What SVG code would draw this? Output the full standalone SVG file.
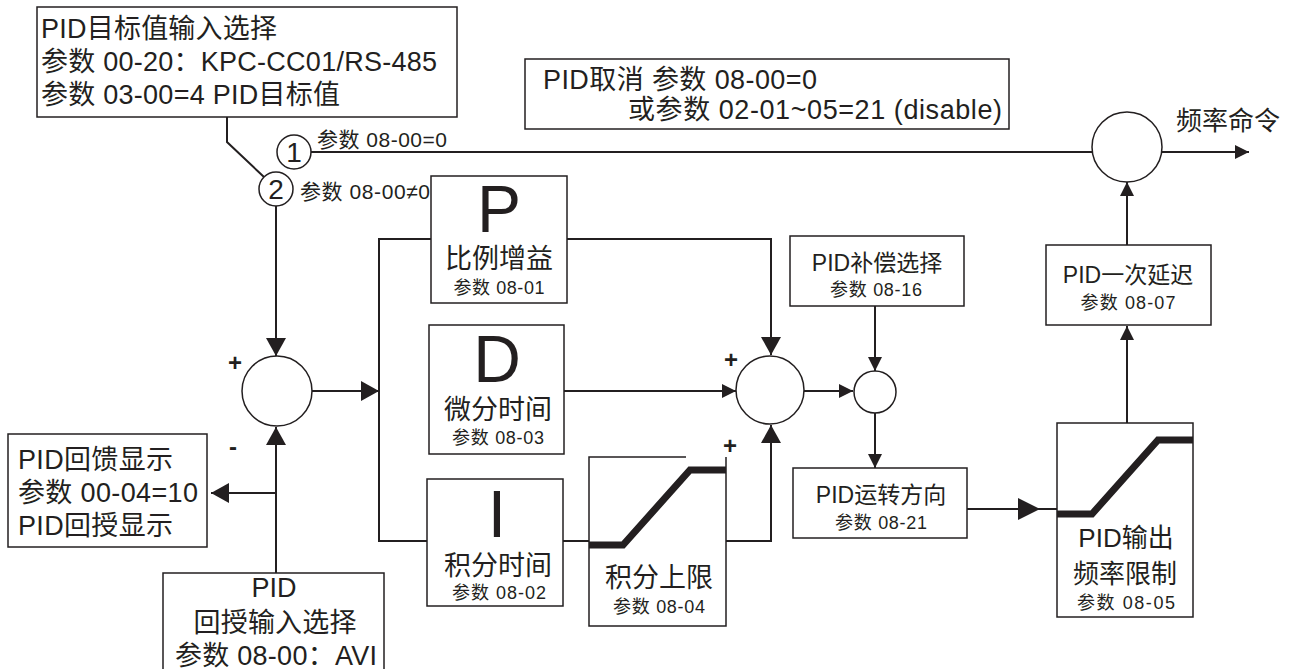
<svg xmlns="http://www.w3.org/2000/svg" width="1294" height="669" viewBox="0 0 1294 669">
<style>
.t{font-family:"Liberation Sans","Noto Sans CJK SC",sans-serif;fill:#231f20}
.c{text-anchor:middle}
.f27{font-size:27px}
.f23{font-size:23px}
.f18{font-size:18px}
.f21{font-size:21px}
.big{font-size:66px}
.pm{font-size:24px;font-weight:bold}
.box{fill:#fff;stroke:#231f20;stroke-width:1.5}
.ln{fill:none;stroke:#231f20;stroke-width:2}
.thk{fill:none;stroke:#231f20;stroke-width:7}
.ar{fill:#231f20}
</style>
<defs>
<marker id="aL" markerUnits="userSpaceOnUse" markerWidth="18" markerHeight="20" viewBox="0 0 18 20" refX="18" refY="10" orient="auto"><path class="ar" d="M0,0L18,10L0,20z"/></marker>
<marker id="aM" markerUnits="userSpaceOnUse" markerWidth="14" markerHeight="14" viewBox="0 0 14 14" refX="14" refY="7" orient="auto"><path class="ar" d="M0,0L14,7L0,14z"/></marker>
<marker id="aXL" markerUnits="userSpaceOnUse" markerWidth="22" markerHeight="22" viewBox="0 0 22 22" refX="22" refY="11" orient="auto"><path class="ar" d="M0,0L22,11L0,22z"/></marker>
</defs>
<rect width="1294" height="669" fill="#fff"/>

<g id="connectors">
<polyline class="ln" points="227,117 227,142 264,177" stroke-width="1.5"/>
<line class="ln" x1="311" y1="152" x2="1092" y2="152"/>
<line class="ln" x1="276" y1="206" x2="276" y2="356" stroke-width="2.5" marker-end="url(#aL)"/>
<line class="ln" x1="276" y1="573" x2="276" y2="427" marker-end="url(#aL)"/>
<line class="ln" x1="276" y1="493" x2="211" y2="493" marker-end="url(#aL)"/>
<line class="ln" x1="312" y1="391" x2="379" y2="391" marker-end="url(#aL)"/>
<polyline class="ln" points="431,239 379,239 379,541 427,541"/>
<polyline class="ln" points="567,239 771,239 771,355" marker-end="url(#aL)"/>
<line class="ln" x1="564" y1="391" x2="736" y2="391" marker-end="url(#aM)"/>
<line class="ln" x1="563" y1="541" x2="589" y2="541"/>
<polyline class="ln" points="726,541 771,541 771,425" marker-end="url(#aL)"/>
<line class="ln" x1="804" y1="391" x2="853" y2="391" marker-end="url(#aM)"/>
<line class="ln" x1="875" y1="306" x2="875" y2="371" marker-end="url(#aM)"/>
<line class="ln" x1="875" y1="413" x2="875" y2="468" marker-end="url(#aM)"/>
<line class="ln" x1="967" y1="509" x2="1040" y2="509" marker-end="url(#aXL)"/>
<line class="ln" x1="1040" y1="509" x2="1057" y2="509" stroke-width="1.5"/>
<line class="ln" x1="1127" y1="423" x2="1127" y2="326" marker-end="url(#aM)"/>
<line class="ln" x1="1127" y1="245" x2="1127" y2="182" marker-end="url(#aM)"/>
<line class="ln" x1="1162" y1="152" x2="1249" y2="152" marker-end="url(#aM)"/>
</g>

<g id="target-select">
<rect class="box" x="37" y="7" width="420" height="110"/>
<text class="t f27" x="41" y="38" textLength="236" lengthAdjust="spacing">PID目标值输入选择</text>
<text class="t f27" x="41" y="71" textLength="396" lengthAdjust="spacing">参数 00-20：KPC-CC01/RS-485</text>
<text class="t f27" x="41" y="104" textLength="299" lengthAdjust="spacing">参数 03-00=4 PID目标值</text>
</g>

<g id="pid-cancel">
<rect class="box" x="525" y="59" width="484" height="70"/>
<text class="t f27" x="543" y="89" textLength="274" lengthAdjust="spacing">PID取消  参数 08-00=0</text>
<text class="t f27" x="628" y="119" textLength="374" lengthAdjust="spacing">或参数 02-01~05=21 (disable)</text>
</g>

<g id="switch1">
<circle class="box" cx="294" cy="152" r="17"/>
<text class="t c" x="294" y="162" font-size="28">1</text>
<text class="t f21" x="317" y="147" textLength="130" lengthAdjust="spacing">参数 08-00=0</text>
</g>

<g id="switch2">
<circle class="box" cx="276" cy="189" r="17"/>
<text class="t c" x="276" y="199" font-size="28">2</text>
<text class="t f21" x="300" y="199" textLength="130" lengthAdjust="spacing">参数 08-00≠0</text>
</g>

<g id="sum1">
<circle class="box" cx="277" cy="391" r="35"/>
<text class="t pm c" x="235" y="371">+</text>
<text class="t pm c" x="233" y="455">-</text>
</g>

<g id="feedback-display">
<rect class="box" x="8" y="434" width="199" height="113"/>
<text class="t f27" x="18" y="469" textLength="155" lengthAdjust="spacing">PID回馈显示</text>
<text class="t f27" x="18" y="502" textLength="180" lengthAdjust="spacing">参数 00-04=10</text>
<text class="t f27" x="18" y="535" textLength="155" lengthAdjust="spacing">PID回授显示</text>
</g>

<g id="feedback-select">
<rect class="box" x="163" y="573" width="221" height="100"/>
<text class="t f27 c" x="274" y="597">PID</text>
<text class="t f27 c" x="275" y="632" textLength="163" lengthAdjust="spacing">回授输入选择</text>
<text class="t f27 c" x="276" y="665" textLength="202" lengthAdjust="spacing">参数 08-00：AVI</text>
</g>

<g id="P">
<rect class="box" x="431" y="176" width="136" height="127"/>
<text class="t big c" x="499" y="232">P</text>
<text class="t f27 c" x="499" y="268">比例增益</text>
<text class="t f18 c" x="499" y="294" textLength="91" lengthAdjust="spacing">参数 08-01</text>
</g>

<g id="D">
<rect class="box" x="429" y="325" width="135" height="129"/>
<text class="t big c" x="497" y="382">D</text>
<text class="t f27 c" x="498" y="419">微分时间</text>
<text class="t f18 c" x="498" y="444" textLength="92" lengthAdjust="spacing">参数 08-03</text>
</g>

<g id="I">
<rect class="box" x="427" y="479" width="136" height="127"/>
<text class="t big c" x="497" y="537">I</text>
<text class="t f27 c" x="498" y="575">积分时间</text>
<text class="t f18 c" x="499" y="599" textLength="94" lengthAdjust="spacing">参数 08-02</text>
</g>

<g id="integral-limit">
<path class="box" d="M686,457H589V626H726V457"/>
<polyline class="thk" points="589,545 623,545 690,470 726,470"/>
<text class="t f27 c" x="659" y="587">积分上限</text>
<text class="t f18 c" x="659" y="613" textLength="92" lengthAdjust="spacing">参数 08-04</text>
</g>

<g id="sum2">
<circle class="box" cx="770" cy="390" r="34"/>
<text class="t pm c" x="731" y="368">+</text>
<text class="t pm c" x="730" y="454">+</text>
</g>

<g id="compensation">
<rect class="box" x="790" y="236" width="174" height="70"/>
<text class="t f23 c" x="877" y="271">PID补偿选择</text>
<text class="t f18 c" x="876" y="296" textLength="92" lengthAdjust="spacing">参数 08-16</text>
</g>

<g id="sum3">
<circle class="box" cx="875" cy="392" r="21"/>
</g>

<g id="direction">
<rect class="box" x="793" y="468" width="174" height="70"/>
<text class="t f23 c" x="881" y="503">PID运转方向</text>
<text class="t f18 c" x="881" y="529" textLength="92" lengthAdjust="spacing">参数 08-21</text>
</g>

<g id="output-limit">
<rect class="box" x="1057" y="423" width="136" height="194"/>
<polyline class="thk" points="1057,514 1092,514 1158,440 1193,440"/>
<text class="t c" x="1126" y="547" font-size="26">PID输出</text>
<text class="t c" x="1125" y="583" font-size="26">频率限制</text>
<text class="t f18 c" x="1126" y="609" textLength="98" lengthAdjust="spacing">参数 08-05</text>
</g>

<g id="delay">
<rect class="box" x="1046" y="245" width="165" height="80"/>
<text class="t f23 c" x="1128" y="283">PID一次延迟</text>
<text class="t f18 c" x="1128" y="309" textLength="95" lengthAdjust="spacing">参数 08-07</text>
</g>

<g id="sum-out">
<circle class="box" cx="1127" cy="147" r="35"/>
<text class="t c" x="1228" y="130" font-size="26">频率命令</text>
</g>
</svg>
